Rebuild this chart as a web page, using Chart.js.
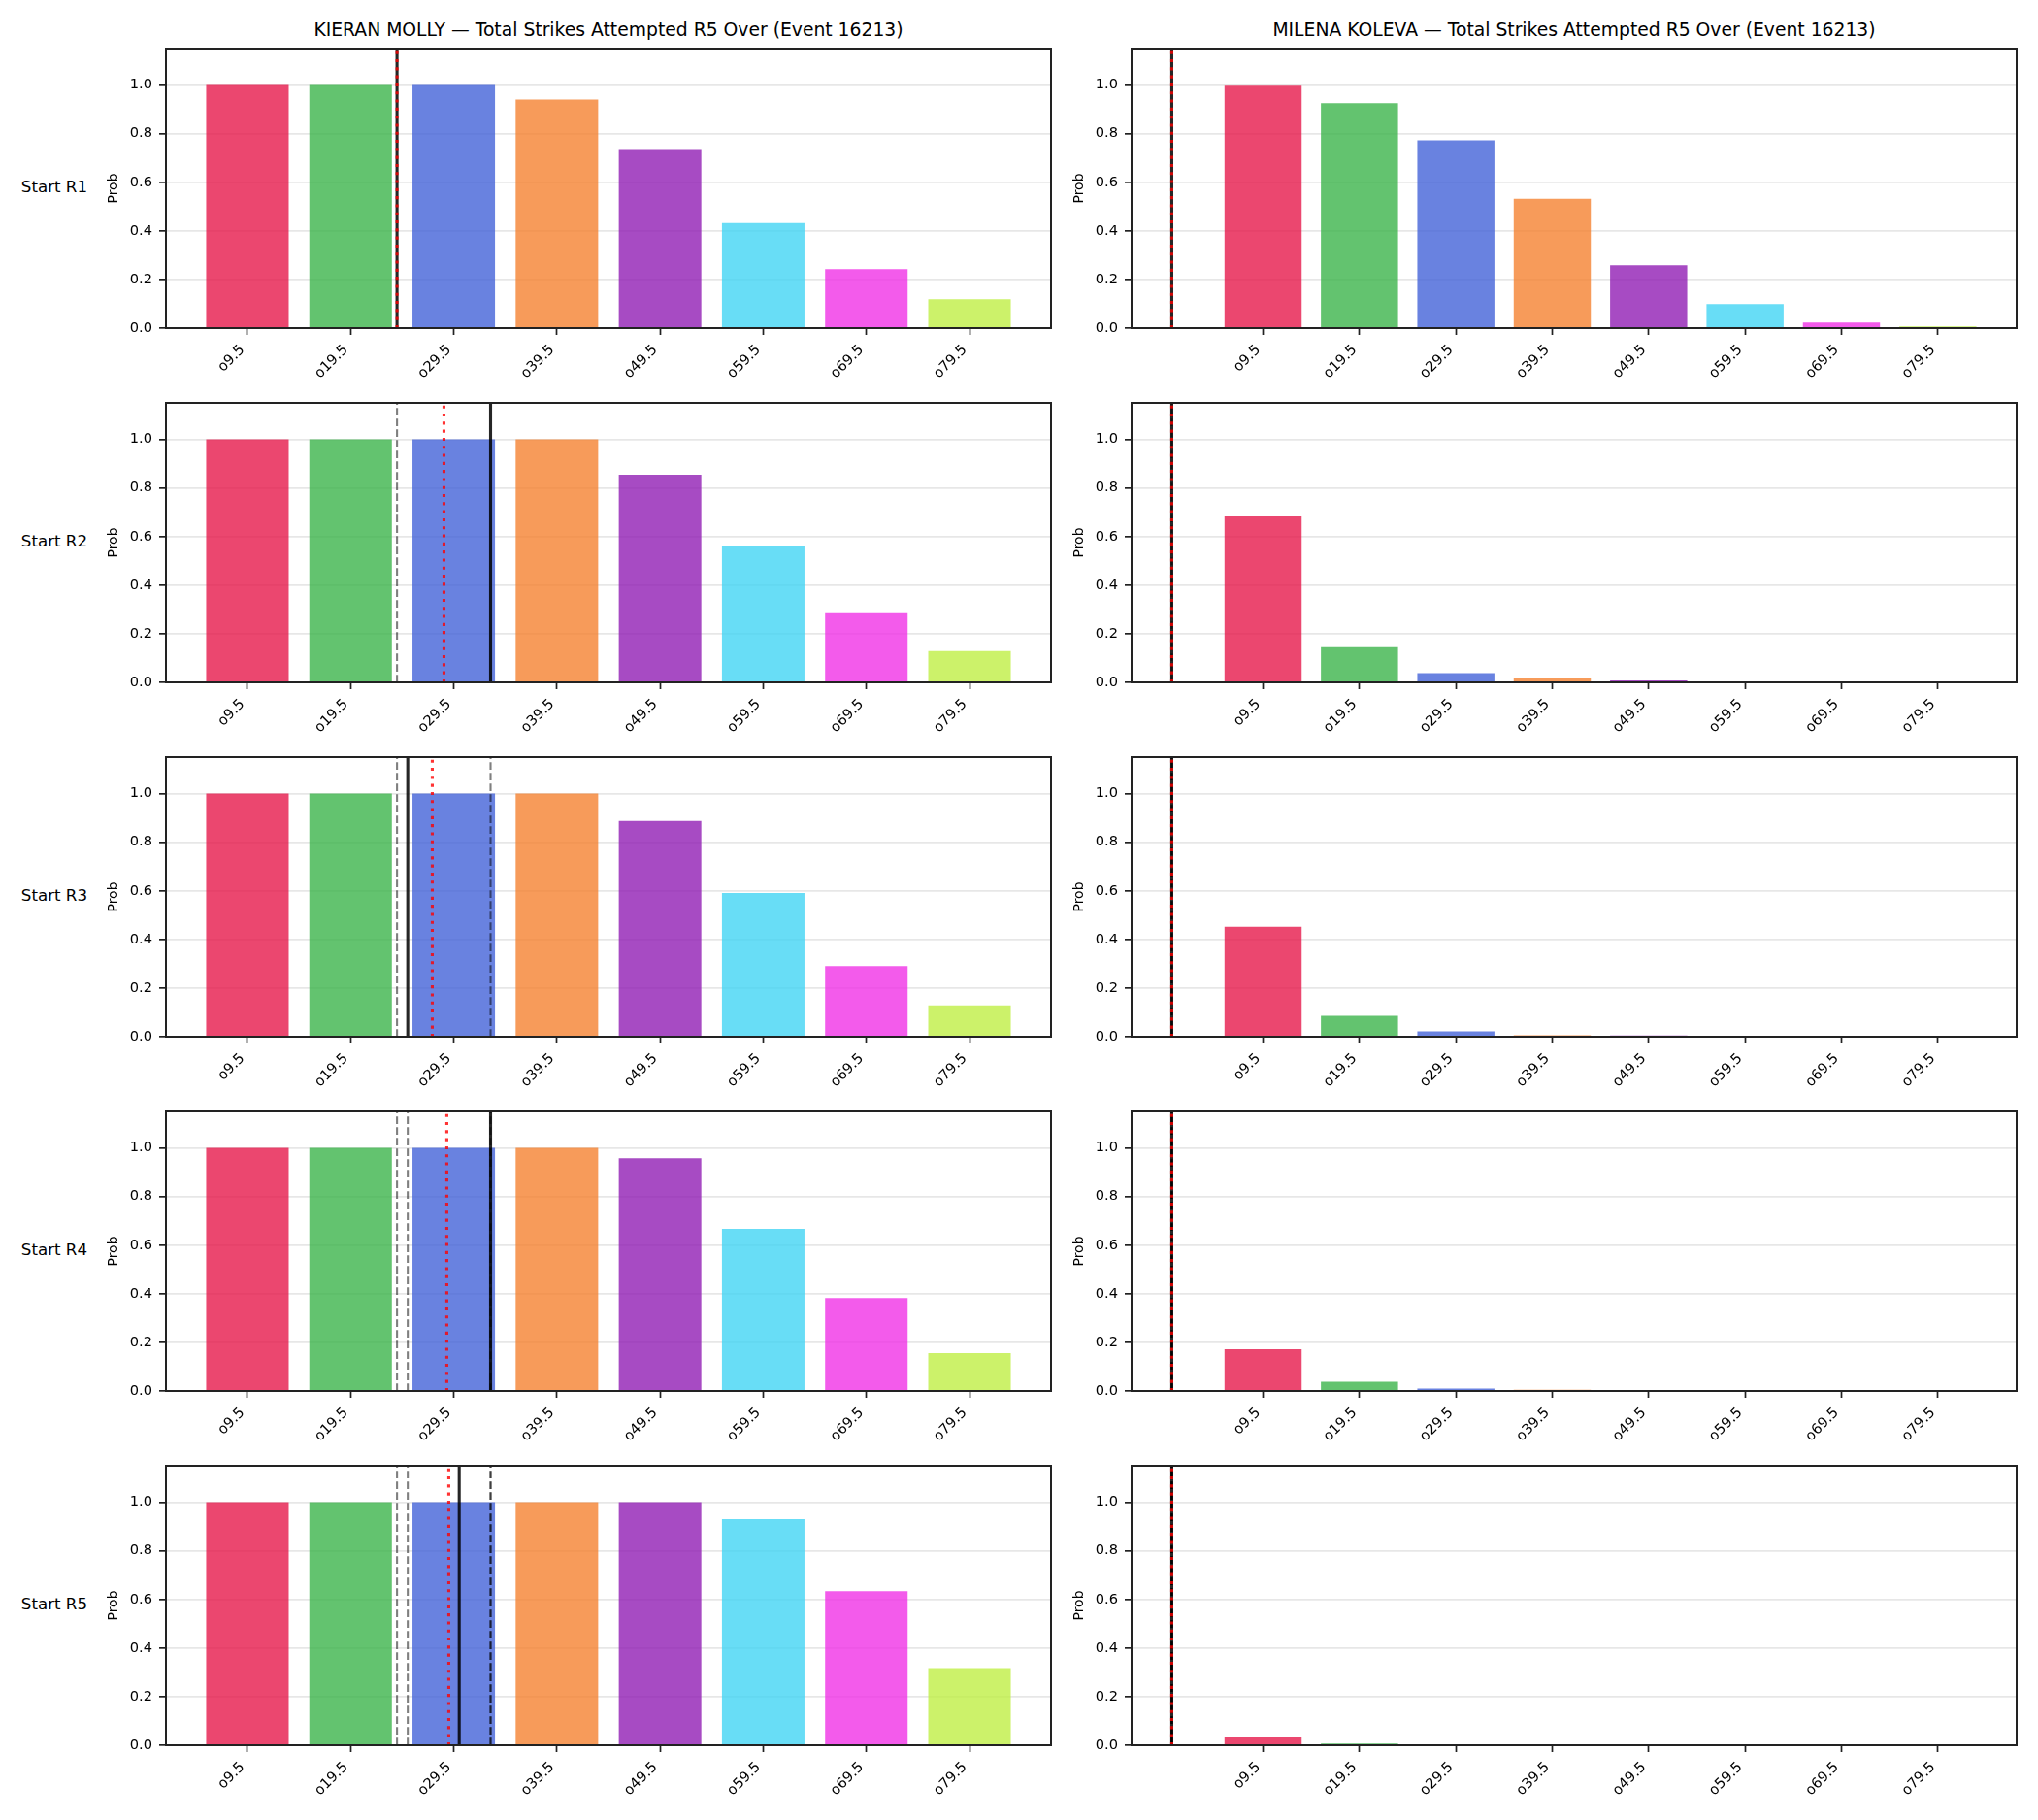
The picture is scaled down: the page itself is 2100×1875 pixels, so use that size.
<!DOCTYPE html>
<html>
<head>
<meta charset="utf-8">
<script src="https://cdn.jsdelivr.net/npm/chart.js@4.4.1/dist/chart.umd.min.js"></script>
<style>
  html, body { margin: 0; padding: 0; background: #fff; }
  #fig { position: relative; width: 2100px; height: 1875px; background: #fff; font-family: "DejaVu Sans", sans-serif; color: #000; overflow: hidden; }
  #fig canvas { position: absolute; }
  .txt { position: absolute; white-space: nowrap; line-height: 1; }
</style>
</head>
<body>
<div id="fig"></div>
<script>
// ---- data ----
const overLines = ["o9.5", "o19.5", "o29.5", "o39.5", "o49.5", "o59.5", "o69.5", "o79.5"];
const players = ["KIERAN MOLLY", "MILENA KOLEVA"];
const startRows = ["Start R1", "Start R2", "Start R3", "Start R4", "Start R5"];
const yTicks = [0, 0.2, 0.4, 0.6, 0.8, 1.0];

const kieranProbs = [
  [1.0, 1.0, 1.0, 0.940, 0.733, 0.432, 0.243, 0.119],
  [1.0, 1.0, 1.0, 1.0, 0.855, 0.559, 0.285, 0.129],
  [1.0, 1.0, 1.0, 1.0, 0.887, 0.591, 0.290, 0.129],
  [1.0, 1.0, 1.0, 1.0, 0.957, 0.667, 0.382, 0.156],
  [1.0, 1.0, 1.0, 1.0, 1.0, 0.930, 0.634, 0.317],
];
const milenaProbs = [
  [0.997, 0.925, 0.773, 0.532, 0.259, 0.099, 0.023, 0.007],
  [0.683, 0.145, 0.038, 0.020, 0.008, 0.002, 0.001, 0.0],
  [0.452, 0.086, 0.022, 0.006, 0.005, 0.001, 0.0, 0.0],
  [0.172, 0.038, 0.010, 0.005, 0.001, 0.0, 0.0, 0.0],
  [0.035, 0.007, 0.001, 0.0, 0.0, 0.0, 0.0, 0.0],
];

// marker lines, in bar-index units on the x axis
// solid = this round's line, dotted = mean; earlier rounds' lines come back dashed
const kieranLine = [1.45, 2.357, 1.554, 2.357, 2.053];
const kieranMean = [1.45, 1.905, 1.792, 1.933, 1.952];
const milenaLine = [-0.947, -0.947, -0.947, -0.947, -0.947];
const milenaMean = [-0.947, -0.947, -0.947, -0.947, -0.947];

const barColors = ["#e6194B", "#3cb44b", "#4363d8", "#f58231", "#911eb4", "#42d4f4", "#f032e6", "#bfef45"];

// ---- layout (px) ----
const FONT = "'DejaVu Sans', sans-serif";
const axLeft = [171, 1166];
const axTop = [50, 415, 780, 1145, 1510];
const AX_W = 912, AX_H = 288;
const PADL = 100, PADR = 20, PADT = 20, PADB = 75;

const fig = document.getElementById("fig");

function rgba(hex, a) {
  const n = parseInt(hex.slice(1), 16);
  return `rgba(${(n >> 16) & 255},${(n >> 8) & 255},${n & 255},${a})`;
}

function addText(text, size, css) {
  const d = document.createElement("div");
  d.className = "txt";
  d.textContent = text;
  d.style.fontSize = size + "px";
  Object.assign(d.style, css);
  fig.appendChild(d);
  return d;
}

// vertical lines, frame and "Prob" label
const markerPlugin = {
  id: "markers",
  afterDatasetsDraw(chart, args, opts) {
    const { ctx, chartArea: a, scales: { x } } = chart;
    ctx.save();
    ctx.beginPath();
    ctx.rect(a.left, a.top, a.width, a.height);
    ctx.clip();
    const vline = (v, color, width, dash) => {
      const px = x.getPixelForValue(v);
      ctx.beginPath();
      ctx.setLineDash(dash);
      ctx.strokeStyle = color;
      ctx.lineWidth = width;
      ctx.moveTo(px, a.bottom);
      ctx.lineTo(px, a.top);
      ctx.stroke();
    };
    opts.dashed.forEach(v => vline(v, "rgba(0,0,0,0.5)", 2.1, [7.7, 3.3]));
    vline(opts.solid, "rgba(0,0,0,0.85)", 3.1, []);
    vline(opts.dotted, "rgba(255,0,0,0.8)", 3.1, [3.1, 5.2]);
    ctx.restore();

    ctx.save();
    ctx.strokeStyle = "#222";
    ctx.lineWidth = 2;
    ctx.strokeRect(a.left, a.top, a.width, a.height);
    ctx.translate(a.left - 54, (a.top + a.bottom) / 2);
    ctx.rotate(-Math.PI / 2);
    ctx.font = `14px ${FONT}`;
    ctx.fillStyle = "#000";
    ctx.textAlign = "center";
    ctx.textBaseline = "middle";
    ctx.fillText("Prob", 0, 0);
    ctx.restore();
  }
};

function makePanel(col, row) {
  const probs = col === 0 ? kieranProbs[row] : milenaProbs[row];
  const line = col === 0 ? kieranLine : milenaLine;
  const mean = col === 0 ? kieranMean : milenaMean;
  const solid = line[row], dotted = mean[row], dashed = line.slice(0, row);

  // matplotlib style autoscale: bar edges + lines, 5% margin
  const all = [-0.4, overLines.length - 0.6, solid, dotted, ...dashed];
  const lo = Math.min(...all), hi = Math.max(...all), m = (hi - lo) * 0.05;

  const cv = document.createElement("canvas");
  const W = PADL + AX_W + PADR, H = PADT + AX_H + PADB;
  cv.width = W; cv.height = H;
  cv.style.left = (axLeft[col] - PADL) + "px";
  cv.style.top = (axTop[row] - PADT) + "px";
  cv.style.width = W + "px"; cv.style.height = H + "px";
  fig.appendChild(cv);

  const tickFont = { family: FONT, size: 14.6 };

  new Chart(cv, {
    type: "bar",
    data: {
      datasets: [{
        data: probs.map((v, i) => ({ x: i, y: v })),
        backgroundColor: barColors.map(c => rgba(c, 0.8)),
        borderWidth: 0,
        categoryPercentage: 1,
        barPercentage: 0.8,
      }],
    },
    options: {
      responsive: false,
      animation: false,
      devicePixelRatio: 1,
      layout: { padding: { top: PADT, right: PADR, left: 0, bottom: 0 } },
      plugins: {
        legend: { display: false },
        tooltip: { enabled: false },
        markers: { solid, dotted, dashed },
      },
      scales: {
        x: {
          type: "linear",
          offset: false,
          min: lo - m,
          max: hi + m,
          afterBuildTicks: s => { s.ticks = overLines.map((_, i) => ({ value: i })); },
          afterFit: s => { s.height = PADB; },
          ticks: {
            callback: v => overLines[v],
            minRotation: 45, maxRotation: 45, autoSkip: false,
            padding: 7, labelOffset: -5,
            color: "#000", font: tickFont,
          },
          grid: { offset: false, drawOnChartArea: false, drawTicks: true, tickLength: 7, tickWidth: 1.7, tickColor: "#222" },
          border: { display: false },
        },
        y: {
          min: 0,
          max: 1.15,
          afterBuildTicks: s => { s.ticks = yTicks.map(v => ({ value: v })); },
          afterFit: s => { s.width = PADL; },
          ticks: { callback: v => v.toFixed(1), padding: 7, color: "#000", font: tickFont },
          grid: { color: "rgba(176,176,176,0.3)", lineWidth: 1.7, tickLength: 7, tickWidth: 1.7, tickColor: "#222" },
          border: { display: false },
        },
      },
    },
    plugins: [markerPlugin],
  });
}

for (let col = 0; col < 2; col++) {
  addText(`${players[col]} \u2014 Total Strikes Attempted R5 Over (Event 16213)`, 18.75, {
    left: (axLeft[col] + AX_W / 2) + "px",
    top: (38.3 - 0.846 * 18.75) + "px",
    transform: "translateX(-50%)",
  });
}
for (let row = 0; row < startRows.length; row++) {
  addText(startRows[row], 16.67, {
    right: (2100 - 90) + "px",
    top: (axTop[row] + 149 - 0.846 * 16.67) + "px",
  });
  makePanel(0, row);
  makePanel(1, row);
}
</script>
</body>
</html>
